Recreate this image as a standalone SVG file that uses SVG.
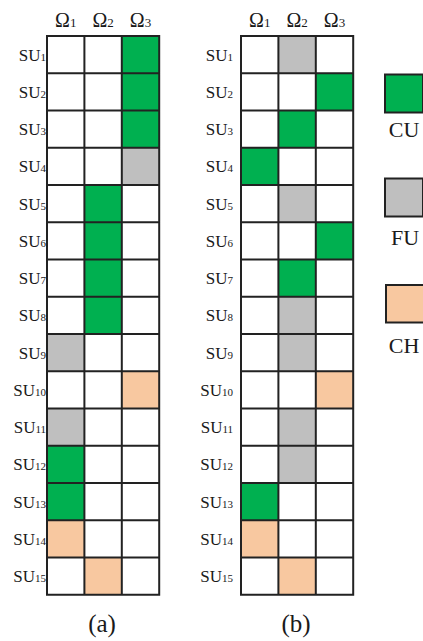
<svg xmlns="http://www.w3.org/2000/svg" width="423" height="641" viewBox="0 0 423 641">
<style>
text{font-family:"Liberation Serif","Times New Roman",serif;fill:#1a1a1a}
.su{font-size:17px;text-anchor:end}
.sub{font-size:11px}
.om{font-size:20px;text-anchor:middle}
.osub{font-size:13px}
.lg{font-size:22px;text-anchor:middle}
.cap{font-size:25px;text-anchor:middle}
.grid{fill:none;stroke:#222;stroke-width:2;stroke-linecap:square}
.g{fill:#00B050}.f{fill:#BFBFBF}.c{fill:#F8C8A0}
.box{stroke:#222;stroke-width:2}
</style>
<rect width="423" height="641" fill="#fff"/>

<g id="panel-a">
<g id="a-headers">
<text class="om" x="65.7" y="27">Ω<tspan class="osub">1</tspan></text>
<text class="om" x="103.1" y="27">Ω<tspan class="osub">2</tspan></text>
<text class="om" x="140.5" y="27">Ω<tspan class="osub">3</tspan></text>
</g>
<g id="a-labels">
<text class="su" x="46" y="60.6">SU<tspan class="sub">1</tspan></text>
<text class="su" x="46" y="97.85">SU<tspan class="sub">2</tspan></text>
<text class="su" x="46" y="135.1">SU<tspan class="sub">3</tspan></text>
<text class="su" x="46" y="172.35">SU<tspan class="sub">4</tspan></text>
<text class="su" x="46" y="209.6">SU<tspan class="sub">5</tspan></text>
<text class="su" x="46" y="246.85">SU<tspan class="sub">6</tspan></text>
<text class="su" x="46" y="284.1">SU<tspan class="sub">7</tspan></text>
<text class="su" x="46" y="321.35">SU<tspan class="sub">8</tspan></text>
<text class="su" x="46" y="358.6">SU<tspan class="sub">9</tspan></text>
<text class="su" x="46" y="395.85">SU<tspan class="sub">10</tspan></text>
<text class="su" x="46" y="433.1">SU<tspan class="sub">11</tspan></text>
<text class="su" x="46" y="470.35">SU<tspan class="sub">12</tspan></text>
<text class="su" x="46" y="507.6">SU<tspan class="sub">13</tspan></text>
<text class="su" x="46" y="544.85">SU<tspan class="sub">14</tspan></text>
<text class="su" x="46" y="582.1">SU<tspan class="sub">15</tspan></text>
</g>
<g id="a-cells">
<rect class="g" x="121.8" y="36" width="37.4" height="37.25"/>
<rect class="g" x="121.8" y="73.25" width="37.4" height="37.25"/>
<rect class="g" x="121.8" y="110.5" width="37.4" height="37.25"/>
<rect class="f" x="121.8" y="147.75" width="37.4" height="37.25"/>
<rect class="g" x="84.4" y="185" width="37.4" height="37.25"/>
<rect class="g" x="84.4" y="222.25" width="37.4" height="37.25"/>
<rect class="g" x="84.4" y="259.5" width="37.4" height="37.25"/>
<rect class="g" x="84.4" y="296.75" width="37.4" height="37.25"/>
<rect class="f" x="47" y="334" width="37.4" height="37.25"/>
<rect class="c" x="121.8" y="371.25" width="37.4" height="37.25"/>
<rect class="f" x="47" y="408.5" width="37.4" height="37.25"/>
<rect class="g" x="47" y="445.75" width="37.4" height="37.25"/>
<rect class="g" x="47" y="483" width="37.4" height="37.25"/>
<rect class="c" x="47" y="520.25" width="37.4" height="37.25"/>
<rect class="c" x="84.4" y="557.5" width="37.4" height="37.25"/>
</g>
<path class="grid" d="M47 36V594.75M84.4 36V594.75M121.8 36V594.75M159.2 36V594.75M47 36H159.2M47 73.25H159.2M47 110.5H159.2M47 147.75H159.2M47 185H159.2M47 222.25H159.2M47 259.5H159.2M47 296.75H159.2M47 334H159.2M47 371.25H159.2M47 408.5H159.2M47 445.75H159.2M47 483H159.2M47 520.25H159.2M47 557.5H159.2M47 594.75H159.2"/>
<text class="cap" x="102" y="632">(a)</text>
</g>

<g id="panel-b">
<g id="b-headers">
<text class="om" x="259.7" y="27">Ω<tspan class="osub">1</tspan></text>
<text class="om" x="297.1" y="27">Ω<tspan class="osub">2</tspan></text>
<text class="om" x="334.5" y="27">Ω<tspan class="osub">3</tspan></text>
</g>
<g id="b-labels">
<text class="su" x="233" y="60.6">SU<tspan class="sub">1</tspan></text>
<text class="su" x="233" y="97.85">SU<tspan class="sub">2</tspan></text>
<text class="su" x="233" y="135.1">SU<tspan class="sub">3</tspan></text>
<text class="su" x="233" y="172.35">SU<tspan class="sub">4</tspan></text>
<text class="su" x="233" y="209.6">SU<tspan class="sub">5</tspan></text>
<text class="su" x="233" y="246.85">SU<tspan class="sub">6</tspan></text>
<text class="su" x="233" y="284.1">SU<tspan class="sub">7</tspan></text>
<text class="su" x="233" y="321.35">SU<tspan class="sub">8</tspan></text>
<text class="su" x="233" y="358.6">SU<tspan class="sub">9</tspan></text>
<text class="su" x="233" y="395.85">SU<tspan class="sub">10</tspan></text>
<text class="su" x="233" y="433.1">SU<tspan class="sub">11</tspan></text>
<text class="su" x="233" y="470.35">SU<tspan class="sub">12</tspan></text>
<text class="su" x="233" y="507.6">SU<tspan class="sub">13</tspan></text>
<text class="su" x="233" y="544.85">SU<tspan class="sub">14</tspan></text>
<text class="su" x="233" y="582.1">SU<tspan class="sub">15</tspan></text>
</g>
<g id="b-cells">
<rect class="f" x="278.4" y="36" width="37.4" height="37.25"/>
<rect class="g" x="315.8" y="73.25" width="37.4" height="37.25"/>
<rect class="g" x="278.4" y="110.5" width="37.4" height="37.25"/>
<rect class="g" x="241" y="147.75" width="37.4" height="37.25"/>
<rect class="f" x="278.4" y="185" width="37.4" height="37.25"/>
<rect class="g" x="315.8" y="222.25" width="37.4" height="37.25"/>
<rect class="g" x="278.4" y="259.5" width="37.4" height="37.25"/>
<rect class="f" x="278.4" y="296.75" width="37.4" height="37.25"/>
<rect class="f" x="278.4" y="334" width="37.4" height="37.25"/>
<rect class="c" x="315.8" y="371.25" width="37.4" height="37.25"/>
<rect class="f" x="278.4" y="408.5" width="37.4" height="37.25"/>
<rect class="f" x="278.4" y="445.75" width="37.4" height="37.25"/>
<rect class="g" x="241" y="483" width="37.4" height="37.25"/>
<rect class="c" x="241" y="520.25" width="37.4" height="37.25"/>
<rect class="c" x="278.4" y="557.5" width="37.4" height="37.25"/>
</g>
<path class="grid" d="M241 36V594.75M278.4 36V594.75M315.8 36V594.75M353.2 36V594.75M241 36H353.2M241 73.25H353.2M241 110.5H353.2M241 147.75H353.2M241 185H353.2M241 222.25H353.2M241 259.5H353.2M241 296.75H353.2M241 334H353.2M241 371.25H353.2M241 408.5H353.2M241 445.75H353.2M241 483H353.2M241 520.25H353.2M241 557.5H353.2M241 594.75H353.2"/>
<text class="cap" x="296" y="632">(b)</text>
</g>

<g id="legend">
<g id="legend-cu">
<rect class="g box" x="385" y="74.5" width="38" height="38"/>
<text class="lg" x="404" y="137">CU</text>
</g>
<g id="legend-fu">
<rect class="f box" x="385" y="178.5" width="38" height="38"/>
<text class="lg" x="405" y="245">FU</text>
</g>
<g id="legend-ch">
<rect class="c box" x="386" y="285" width="38" height="37.5"/>
<text class="lg" x="404" y="353">CH</text>
</g>
</g>
</svg>
